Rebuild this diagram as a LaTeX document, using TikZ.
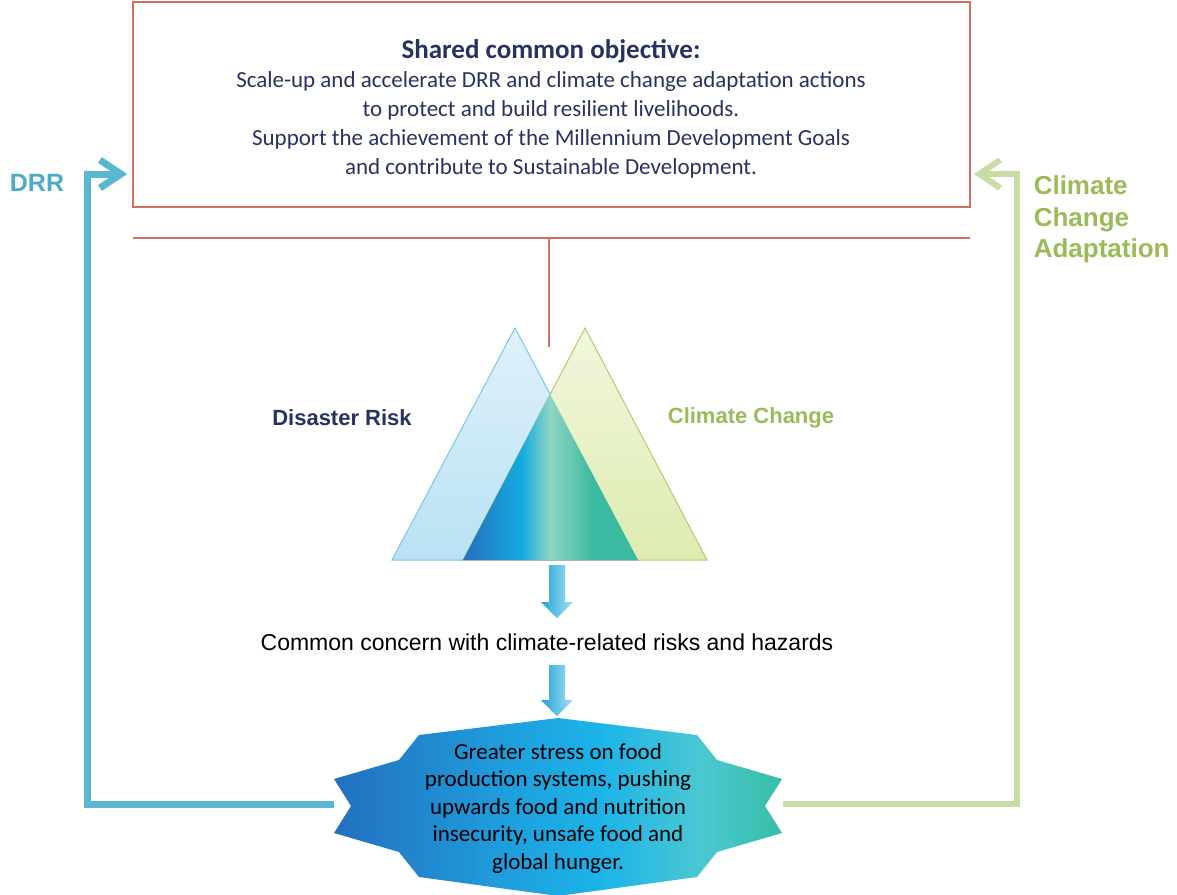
\documentclass[tikz,border=0pt]{standalone}
\usepackage{fontspec}
\setmainfont{Carlito}
\newfontfamily\arialfont{Liberation Sans}
\usetikzlibrary{arrows.meta}

\definecolor{boxred}{RGB}{214,108,100}
\definecolor{navytext}{RGB}{40,50,95}
\definecolor{drrblue}{RGB}{75,172,198}
\definecolor{drrline}{RGB}{90,183,210}
\definecolor{ccagreen}{RGB}{155,187,89}
\definecolor{ccaline}{RGB}{202,220,165}
\definecolor{ovA}{RGB}{40,110,190}
\definecolor{ovB}{RGB}{20,172,226}
\definecolor{ovC}{RGB}{145,212,195}
\definecolor{ovD}{RGB}{58,186,160}
\definecolor{sealA}{RGB}{35,112,192}
\definecolor{sealB}{RGB}{30,160,222}
\definecolor{sealC}{RGB}{28,180,232}
\definecolor{sealD}{RGB}{75,200,210}
\definecolor{sealE}{RGB}{55,190,165}
\definecolor{dnA}{RGB}{40,160,215}
\definecolor{dnB}{RGB}{100,195,230}
\definecolor{dnC}{RGB}{165,222,236}

\pgfdeclarehorizontalshading{overlapshade}{100bp}{color(0bp)=(ovA); color(25bp)=(ovA);
  color(42bp)=(ovB); color(50bp)=(ovC); color(62bp)=(ovD); color(75bp)=(ovD); color(100bp)=(ovD)}
\pgfdeclarehorizontalshading{sealshade}{100bp}{color(0bp)=(sealA); color(25bp)=(sealA);
  color(45bp)=(sealB); color(55bp)=(sealC); color(66bp)=(sealD); color(75bp)=(sealE); color(100bp)=(sealE)}
\pgfdeclarehorizontalshading{downshade}{100bp}{color(0bp)=(dnA); color(25bp)=(dnA);
  color(50bp)=(dnB); color(75bp)=(dnC); color(100bp)=(dnC)}

\begin{document}
\begin{tikzpicture}[x=1pt, y=-1pt, line width=1.5pt,
		>={Straight Barb[length=21pt, width=28pt]},
		txt/.style={inner sep=0pt, align=center},
		sidelabel/.style={inner sep=0pt, font=\arialfont\bfseries\fontsize{25}{31}\selectfont},
		midlabel/.style={inner sep=0pt, font=\arialfont\bfseries\fontsize{22}{26}\selectfont}]
	\useasboundingbox (0,0) rectangle (1177,894);

	% objective box and red bar
	\node[draw=boxred, minimum width=837pt, minimum height=205pt, inner sep=0pt] (objective) at (551.5,104.5) {};
	\node[txt, text=navytext, font=\fontsize{23}{29}\selectfont] (objtext) at (551,109)
		{{\fontsize{27}{29}\selectfont\bfseries Shared common objective:}\\
		Scale-up and accelerate DRR and climate change adaptation actions\\
		to protect and build resilient livelihoods.\\
		Support the achievement of the Millennium Development Goals\\
		and contribute to Sustainable Development.};
	\coordinate (barL) at (133,238);
	\coordinate (barR) at (970,238);
	\coordinate (barM) at (549,238);
	\coordinate (stem) at (549,347);
	\draw[boxred] (barL) -- (barR);
	\draw[boxred] (barM) -- (stem);

	% triangles
	\shade[top color={rgb,255:red,224;green,241;blue,250}, bottom color={rgb,255:red,184;green,226;blue,244},
		draw={rgb,255:red,122;green,200;blue,226}, line width=1pt] (515,328) -- (392,560) -- (638,560) -- cycle;
	\shade[top color={rgb,255:red,241;green,247;blue,222}, bottom color={rgb,255:red,222;green,235;blue,176},
		draw={rgb,255:red,176;green,202;blue,112}, line width=1pt] (585,328) -- (463,560) -- (707,560) -- cycle;
	\shade[shading=overlapshade] (550,394) -- (463,560) -- (638,560) -- cycle;
	\draw[gray!60, line width=1pt] (463,560.5) -- (638,560.5);

	\node[midlabel, text=navytext] (risk) at (342,418) {Disaster Risk};
	\node[midlabel, text=ccagreen] (climate) at (751,418) {Climate Change};

	% down arrows
	\foreach \ytop/\ylen in {565/37, 665/35} {
		\shade[shading=downshade] (549,\ytop) -- (565,\ytop) -- (565,\ytop+\ylen) -- (573,\ytop+\ylen)
			-- (557,\ytop+\ylen+16) -- (541,\ytop+\ylen) -- (549,\ytop+\ylen) -- cycle;
	}
	\node[txt, font=\arialfont\fontsize{23}{27}\selectfont] (concern) at (547,642)
		{Common concern with climate-related risks and hazards};

	% seal
	\shade[shading=sealshade] (558,718) -- (697,735) -- (717,760) -- (782,779) -- (765,806) -- (782,833)
		-- (717,852) -- (697,877) -- (558,896) -- (419,877) -- (399,852) -- (334,833) -- (351,806)
		-- (334,779) -- (399,760) -- (419,735) -- cycle;
	\coordinate (sealW) at (334,804);
	\coordinate (sealE) at (783,804);
	\node[txt, text=black, font=\fontsize{23}{27.5}\selectfont] (food) at (558,808)
		{Greater stress on food\\ production systems, pushing\\ upwards food and nutrition\\
		insecurity, unsafe food and\\ global hunger.};

	% feedback loops
	\coordinate (drrCorner) at (87,804);
	\coordinate (drrTop) at (87,174);
	\coordinate (ccaCorner) at (1017,804);
	\coordinate (ccaTop) at (1017,174);
	\draw[->, drrline, line width=7pt] (sealW) -- (drrCorner) -- (drrTop) -- ([xshift=-5pt]objective.west |- drrTop);
	\draw[->, ccaline, line width=6pt] (sealE) -- (ccaCorner) -- (ccaTop) -- ([xshift=3pt]objective.east |- ccaTop);

	\node[sidelabel, text=drrblue] (drr) at (37,183) {DRR};
	\node[sidelabel, text=ccagreen, align=left, anchor=north west, font=\arialfont\bfseries\fontsize{26}{31.5}\selectfont]
		(cca) at (1033,175) {Climate\\ Change\\ Adaptation};
\end{tikzpicture}
\end{document}
